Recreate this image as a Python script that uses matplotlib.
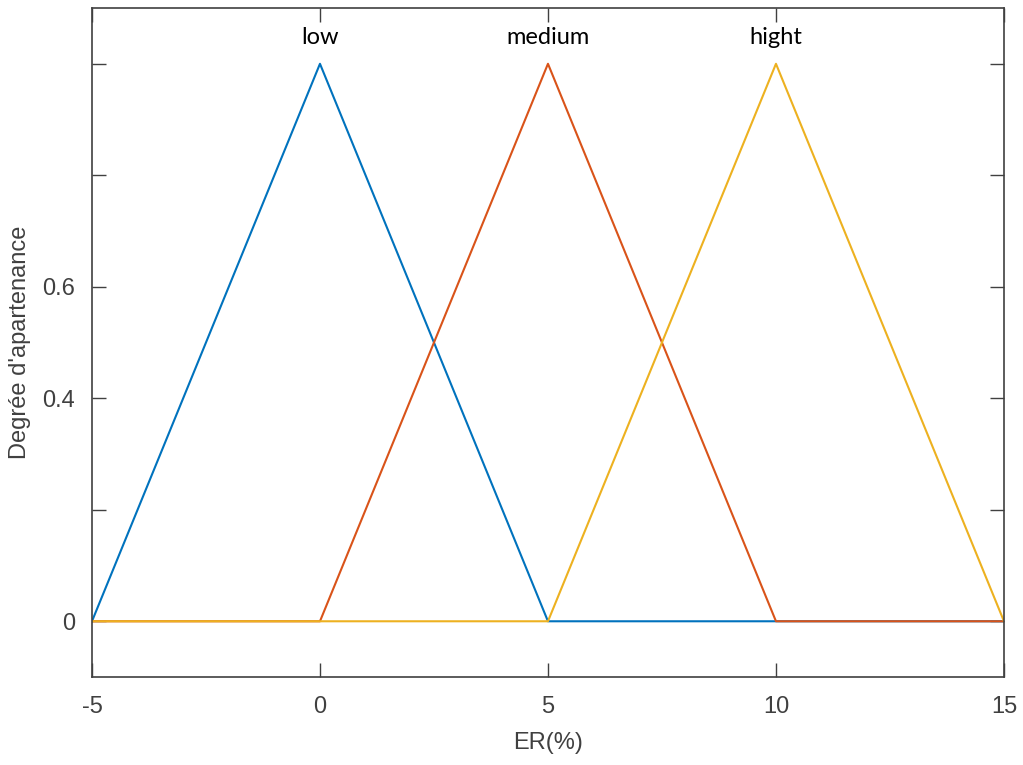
import matplotlib
matplotlib.use("Agg")
import matplotlib.pyplot as plt

plt.rcParams["font.family"] = ["Liberation Sans", "DejaVu Sans"]
plt.rcParams["axes.unicode_minus"] = False

# membership functions (x breakpoints, degree)
low_x = [-5, 0, 5, 15]
low_y = [0, 1, 0, 0]
med_x = [-5, 0, 5, 10, 15]
med_y = [0, 0, 1, 0, 0]
high_x = [-5, 5, 10, 15]
high_y = [0, 0, 1, 0]

names = ["low", "medium", "hight"]
peaks = [0, 5, 10]
colors = ["#0072BD", "#D95319", "#EDB120"]

xticks = [-5, 0, 5, 10, 15]
yticks = [0, 0.2, 0.4, 0.6, 0.8, 1.0]
ytick_labels = ["0", "", "0.4", "0.6", "", ""]

fig = plt.figure(figsize=(10.23, 7.65), dpi=100)
ax = fig.add_axes([0.0899, 0.115, 0.8915, 0.8745])

for xs, ys, c in zip([low_x, med_x, high_x], [low_y, med_y, high_y], colors):
    ax.plot(xs, ys, color=c, linewidth=1.5)

for n, p in zip(names, peaks):
    ax.text(p, 1.047, n, ha="center", va="center", fontsize=17,
            family=["Lato", "DejaVu Sans"], color="black")

ax.set_xlim(-5, 15)
ax.set_ylim(-0.1, 1.1)
ax.set_xticks(xticks)
ax.set_yticks(yticks)
ax.set_yticklabels(ytick_labels)
ax.tick_params(direction="in", length=10, width=1, colors="#404040",
               labelsize=17, top=True, right=True)
ax.tick_params(axis="x", pad=14)
ax.tick_params(axis="y", pad=12)
for s in ax.spines.values():
    s.set_color("#404040")
    s.set_linewidth(1.2)

ax.set_xlabel("ER(%)", fontsize=17, color="#404040", labelpad=10)
ax.set_ylabel("Degrée d'apartenance", fontsize=17, color="#404040", labelpad=8)

fig.savefig("out.png", dpi=100)
